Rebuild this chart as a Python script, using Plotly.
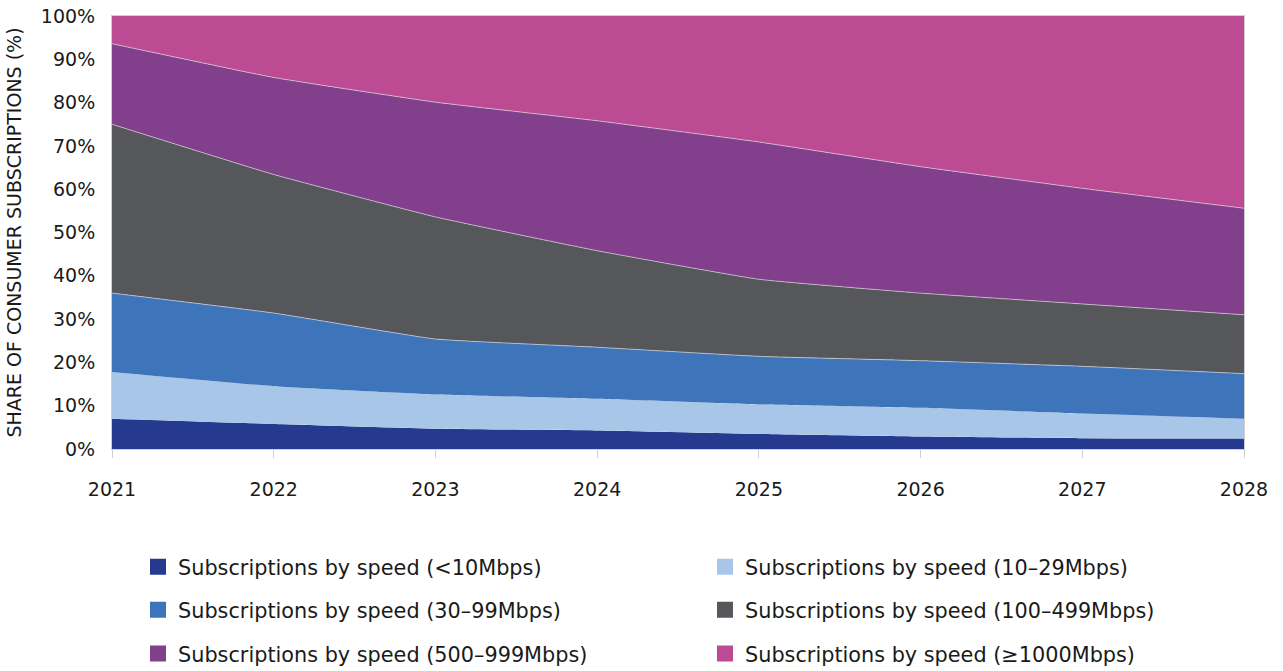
import plotly.graph_objects as go

years = [2021, 2022, 2023, 2024, 2025, 2026, 2027, 2028]

# Share of consumer subscriptions by speed tier (%)
below_10 = [7.0, 5.8, 4.7, 4.3, 3.5, 2.9, 2.5, 2.4]
tier_10_29 = [10.8, 8.7, 7.9, 7.3, 6.8, 6.6, 5.7, 4.6]
tier_30_99 = [18.2, 16.9, 12.8, 11.9, 11.1, 10.9, 10.9, 10.4]
tier_100_499 = [39.0, 32.0, 28.2, 22.3, 17.8, 15.6, 14.4, 13.6]
tier_500_999 = [18.6, 22.4, 26.5, 30.0, 31.7, 29.2, 26.7, 24.6]
tier_1000_up = [6.4, 14.2, 19.9, 24.2, 29.1, 34.8, 39.8, 44.4]

series = [
    ("Subscriptions by speed (<10Mbps)", below_10, "#253a8f", 0),
    ("Subscriptions by speed (10–29Mbps)", tier_10_29, "#a8c6e8", 0),
    ("Subscriptions by speed (30–99Mbps)", tier_30_99, "#3e74ba", 0.8),
    ("Subscriptions by speed (100–499Mbps)", tier_100_499, "#56575b", 0.8),
    ("Subscriptions by speed (500–999Mbps)", tier_500_999, "#813f8c", 0.8),
    ("Subscriptions by speed (≥1000Mbps)", tier_1000_up, "#bd4b93", 0),
]

FONT = "DejaVu Sans"
TEXT = "#1a1a1a"

fig = go.Figure()
for name, vals, color, lw in series:
    fig.add_trace(go.Scatter(
        x=years, y=vals, name=name, stackgroup="speed",
        mode="lines",
        line=dict(width=lw, color="rgba(220,220,225,0.8)" if lw else color,
                  shape="spline", smoothing=0.35),
        fillcolor=color, showlegend=False, hoverinfo="x+y+name",
    ))

# Legend: one single-entry legend per series, laid out in a 2-column grid
plot_left, plot_width = 112, 1132
plot_top, plot_bottom = 15.5, 449.5
col_px = [138, 705]
row_px = [568, 611, 655]

legend_layouts = {}
for i, (name, vals, color, lw) in enumerate(series):
    lg = "legend" if i == 0 else f"legend{i + 1}"
    fig.add_trace(go.Scatter(
        x=[None], y=[None], name=name, mode="markers",
        marker=dict(symbol="square", size=22, color=color),
        showlegend=True, legend=lg,
    ))
    legend_layouts[lg] = dict(
        orientation="h", xanchor="left", yanchor="middle",
        x=(col_px[i % 2] - plot_left) / plot_width,
        y=(plot_bottom - row_px[i // 2]) / (plot_bottom - plot_top),
        font=dict(family=FONT, size=20.8, color=TEXT),
        bgcolor="rgba(0,0,0,0)",
    )

fig.update_layout(
    width=1283, height=671,
    margin=dict(l=112, r=39, t=15.5, b=221.5, autoexpand=False),
    paper_bgcolor="white", plot_bgcolor="white",
    font=dict(family=FONT, size=19, color=TEXT),
    showlegend=True,
    xaxis=dict(
        range=[2021, 2028], tickmode="array", tickvals=years,
        ticktext=[str(y) for y in years],
        ticks="outside", ticklen=8, tickcolor="#cfcfcf",
        showline=True, linecolor="#d0d0d0", linewidth=1, mirror=True,
        showgrid=False, zeroline=False, ticklabelstandoff=15,
        tickfont=dict(size=19),
    ),
    yaxis=dict(
        range=[0, 100], tickmode="array", tickvals=list(range(0, 101, 10)),
        ticktext=[f"{v}%" for v in range(0, 101, 10)],
        showline=True, linecolor="#d0d0d0", linewidth=1, mirror=True,
        showgrid=False, zeroline=False, ticks="", ticklabelstandoff=12,
        tickfont=dict(size=19),
        title=dict(text="SHARE OF CONSUMER SUBSCRIPTIONS (%)",
                   font=dict(size=19, color=TEXT), standoff=14),
    ),
    **legend_layouts,
)

fig.write_html("out.html")
